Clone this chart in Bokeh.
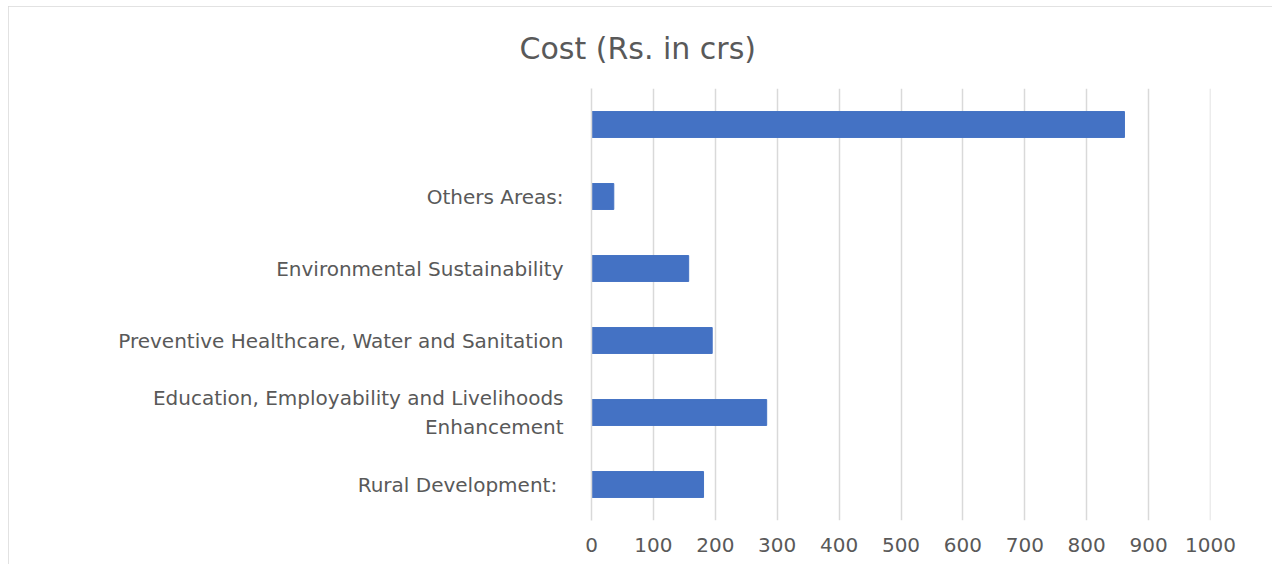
from bokeh.plotting import figure
from bokeh.models import Range1d, FactorRange, FixedTicker, Span
from bokeh.embed import file_html
from bokeh.resources import INLINE

categories = [
    "Rural Development: ",
    "Education, Employability and Livelihoods\nEnhancement",
    "Preventive Healthcare, Water and Sanitation",
    "Environmental Sustainability",
    "Others Areas:",
    " ",
]
costs = [181, 283, 195, 157, 36, 861]
x_ticks = [0, 100, 200, 300, 400, 500, 600, 700, 800, 900, 1000]
title_text = "Cost (Rs. in crs)"

FONT = "DejaVu Sans"
GREY = "#595959"
GRID = "#d9d9d9"

p = figure(
    width=1264, height=558,
    y_range=FactorRange(factors=categories, range_padding=0),
    x_range=Range1d(x_ticks[0], x_ticks[-1]),
    output_backend="svg", toolbar_location=None,
    min_border_left=583, min_border_right=62,
    min_border_top=82, min_border_bottom=44,
    title=title_text,
)
p.title.align = "left"
p.title.offset = -72
p.title.standoff = 45
p.title.text_font = FONT
p.title.text_font_size = "30px"
p.title.text_font_style = "normal"
p.title.text_color = GREY

p.hbar(y=categories, left=0, right=costs, height=0.36,
       fill_color="#4472C4", line_color="#4472C4")

p.outline_line_color = None
p.ygrid.grid_line_color = None
p.xgrid.grid_line_color = GRID
p.xgrid.grid_line_width = 1.5
p.add_layout(Span(location=x_ticks[-1], dimension="height",
                  line_color=GRID, line_width=1.5))
p.xaxis.ticker = FixedTicker(ticks=x_ticks)
p.xaxis.axis_line_color = None
p.xaxis.major_tick_line_color = None
p.xaxis.minor_tick_line_color = None
p.xaxis.major_label_standoff = 11
p.xaxis.major_label_text_font = FONT
p.xaxis.major_label_text_font_size = "20px"
p.xaxis.major_label_text_color = GREY

p.yaxis.axis_line_color = GRID
p.yaxis.axis_line_width = 1.5
p.yaxis.major_tick_line_color = None
p.yaxis.minor_tick_line_color = None
p.yaxis.major_label_standoff = 22
p.yaxis.major_label_text_font = FONT
p.yaxis.major_label_text_font_size = "20px"
p.yaxis.major_label_text_color = GREY

p.styles = {"margin-left": "8px", "margin-top": "6px",
            "outline": "2px solid #d9d9d9", "outline-offset": "-2px"}

open("out.html", "w").write(file_html(p, INLINE))
